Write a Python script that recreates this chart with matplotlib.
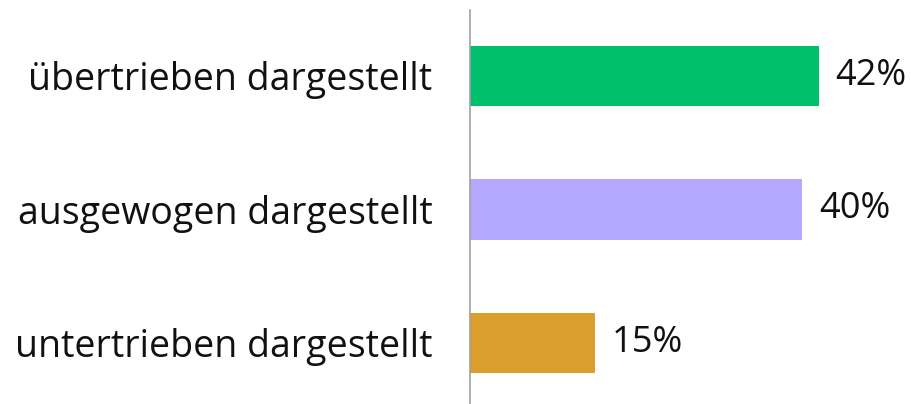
import matplotlib
matplotlib.use("Agg")
import matplotlib.pyplot as plt

categories = ["untertrieben dargestellt", "ausgewogen dargestellt", "übertrieben dargestellt"]
values = [15, 40, 42]
colors = ["#D99E2B", "#B4A7FF", "#00C06B"]
labels = ["15%", "40%", "42%"]

plt.rcParams['font.family'] = ['Open Sans', 'DejaVu Sans']

fig = plt.figure(figsize=(9.12, 4.04), dpi=100)
ax = fig.add_axes([470/912, 0, 442/912, 394/404])
ypos = list(range(len(categories)))
ax.barh(ypos, values, height=0.45, color=colors)
ax.set_xlim(0, 53.2)
ax.set_ylim(-0.457, 2.494)
for s in ["top", "right", "bottom"]:
    ax.spines[s].set_visible(False)
ax.spines["left"].set_color("#A0A0A0")
ax.spines["left"].set_linewidth(1.2)
ax.set_xticks([])
ax.set_yticks(ypos)
ax.set_yticklabels(categories, fontsize=27, color="#111111")
ax.tick_params(axis="y", length=0, pad=27)
for y, v, lab in zip(ypos, values, labels):
    ax.text(v + 2.0, y, lab, va="center", ha="left", fontsize=26, color="#111111")
fig.savefig("out.png", dpi=100)
